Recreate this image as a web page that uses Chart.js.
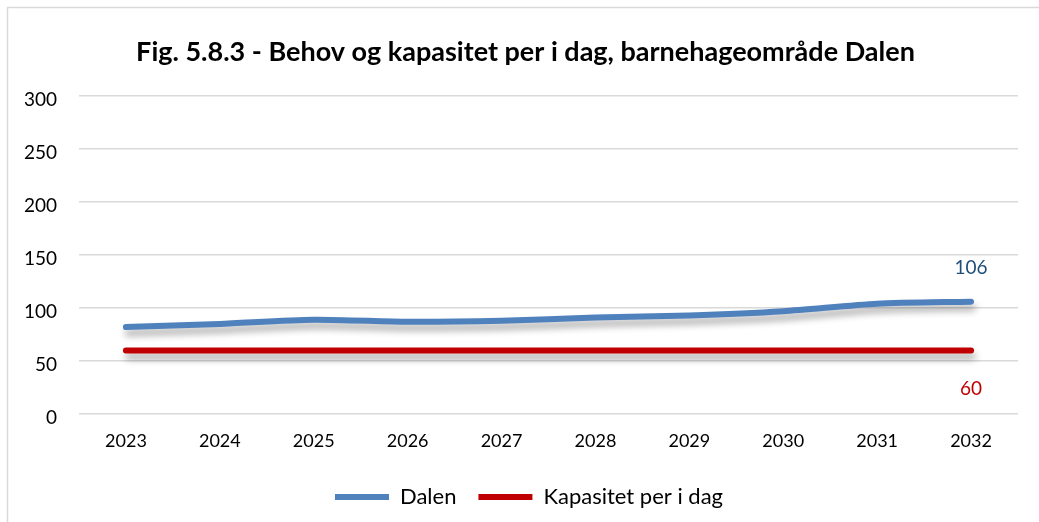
<!DOCTYPE html>
<html>
<head>
<meta charset="utf-8">
<script src="https://cdn.jsdelivr.net/npm/chart.js@4/dist/chart.umd.min.js"></script>
<style>
  html, body { margin: 0; padding: 0; background: #ffffff; }
  #wrap { position: relative; width: 1039px; height: 522px; }
</style>
</head>
<body>
<div id="wrap"><canvas id="c" width="1039" height="522"></canvas></div>
<script>
const titleText = 'Fig. 5.8.3 - Behov og kapasitet per i dag, barnehageområde Dalen';
const categories = ['2023', '2024', '2025', '2026', '2027', '2028', '2029', '2030', '2031', '2032'];
const seriesNames = ['Dalen', 'Kapasitet per i dag'];
const dalenValues = [82, 85, 89, 87, 88, 91, 93, 97, 104, 106];
const kapasitetValues = [60, 60, 60, 60, 60, 60, 60, 60, 60, 60];
const yTicks = [0, 50, 100, 150, 200, 250, 300];

const FONT = 'Lato, "Liberation Sans", sans-serif';
const PLOT_BOTTOM = 414;

const frame = {
  id: 'frame',
  beforeDraw(chart) {
    const ctx = chart.ctx;
    ctx.save();
    ctx.fillStyle = '#ffffff';
    ctx.fillRect(0, 0, chart.width, chart.height);
    ctx.strokeStyle = '#d9d9d9';
    ctx.lineWidth = 1.5;
    ctx.beginPath();
    ctx.moveTo(7.5, chart.height);
    ctx.lineTo(7.5, 7.5);
    ctx.lineTo(chart.width, 7.5);
    ctx.stroke();
    ctx.restore();
  },
  afterDraw(chart) {
    const ctx = chart.ctx;
    ctx.save();
    ctx.font = 'bold 27px ' + FONT;
    ctx.fillStyle = '#000000';
    ctx.textAlign = 'center';
    ctx.textBaseline = 'middle';
    ctx.fillText(titleText, 525.5, 52);
    ctx.restore();
  }
};

const shadow = {
  id: 'shadow',
  beforeDatasetDraw(chart) {
    const ctx = chart.ctx;
    ctx.save();
    ctx.shadowColor = 'rgba(0,0,0,0.33)';
    ctx.shadowBlur = 7;
    ctx.shadowOffsetX = 2;
    ctx.shadowOffsetY = 6;
  },
  afterDatasetDraw(chart) {
    chart.ctx.restore();
  }
};

const lastLabels = {
  id: 'lastLabels',
  afterDatasetsDraw(chart) {
    const ctx = chart.ctx;
    ctx.save();
    ctx.font = '19px ' + FONT;
    ctx.textAlign = 'center';
    ctx.textBaseline = 'middle';
    const specs = [
      { ds: 0, color: '#1F4E79', dy: -34 },
      { ds: 1, color: '#C00000', dy: 38 }
    ];
    specs.forEach(s => {
      const meta = chart.getDatasetMeta(s.ds);
      const pts = meta.data;
      const p = pts[pts.length - 1];
      const v = chart.data.datasets[s.ds].data[pts.length - 1];
      ctx.fillStyle = s.color;
      ctx.fillText(String(v), p.x, p.y + s.dy);
    });
    ctx.restore();
  }
};

new Chart(document.getElementById('c'), {
  type: 'line',
  data: {
    labels: categories,
    datasets: [
      {
        label: seriesNames[0],
        data: dalenValues,
        borderColor: '#4F81BD',
        backgroundColor: '#4F81BD',
        borderWidth: 6,
        borderCapStyle: 'round',
        borderJoinStyle: 'round',
        pointRadius: 0,
        pointHoverRadius: 0,
        tension: 0.25,
        fill: false
      },
      {
        label: seriesNames[1],
        data: kapasitetValues,
        borderColor: '#C00000',
        backgroundColor: '#C00000',
        borderWidth: 6,
        borderCapStyle: 'round',
        borderJoinStyle: 'round',
        pointRadius: 0,
        pointHoverRadius: 0,
        tension: 0.25,
        fill: false
      }
    ]
  },
  options: {
    responsive: false,
    animation: false,
    devicePixelRatio: 1,
    layout: { padding: { left: 19, right: 0, top: 96, bottom: 4 } },
    plugins: {
      tooltip: { enabled: false },
      title: { display: false },
      legend: {
        display: true,
        position: 'bottom',
        labels: {
          usePointStyle: true,
          pointStyle: 'line',
          pointStyleWidth: 54,
          boxHeight: 16,
          color: '#000000',
          font: { family: FONT, size: 22 },
          padding: 22
        }
      }
    },
    scales: {
      x: {
        offset: true,
        afterFit(scale) {
          const lh = scale.chart.legend ? scale.chart.legend.height : 0;
          scale.height = scale.chart.height - 4 - lh - PLOT_BOTTOM;
        },
        grid: { display: false, drawTicks: false, offset: true },
        border: { display: false },
        ticks: {
          color: '#000000',
          font: { family: FONT, size: 18 },
          padding: 16,
          maxRotation: 0,
          autoSkip: false
        }
      },
      y: {
        min: 0,
        max: 300,
        afterFit(scale) { scale.width = 60; },
        afterBuildTicks(scale) { scale.ticks = yTicks.map(v => ({ value: v })); },
        grid: { color: '#d9d9d9', lineWidth: 1.5, drawTicks: false },
        border: { display: false },
        ticks: {
          color: '#000000',
          font: { family: FONT, size: 19 },
          padding: 22,
          labelOffset: 4
        }
      },
      yRight: {
        position: 'right',
        min: 0,
        max: 300,
        afterFit(scale) { scale.width = 21; },
        grid: { display: false, drawTicks: false },
        border: { display: false },
        ticks: { display: false }
      }
    }
  },
  plugins: [frame, shadow, lastLabels]
});
</script>
</body>
</html>
